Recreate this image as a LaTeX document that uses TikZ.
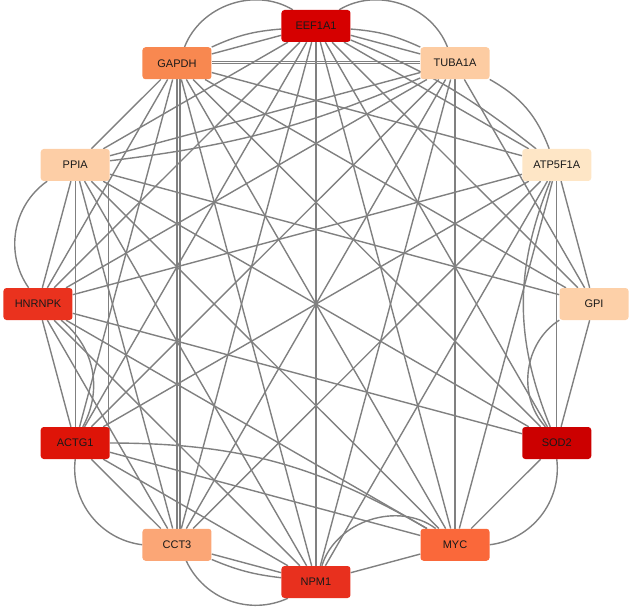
\documentclass[tikz,border=0pt]{standalone}
\usepackage{fontspec}
\setmainfont{Liberation Sans}
\usetikzlibrary{backgrounds}

\def\ringradius{278}
\definecolor{edgecolor}{RGB}{128, 128, 128}
\definecolor{colEEF}{RGB}{214, 0, 0}
\definecolor{colTUB}{RGB}{253, 204, 162}
\definecolor{colATP}{RGB}{254, 230, 198}
\definecolor{colGPI}{RGB}{253, 208, 168}
\definecolor{colSOD}{RGB}{204, 0, 0}
\definecolor{colMYC}{RGB}{250, 104, 58}
\definecolor{colNPM}{RGB}{232, 48, 30}
\definecolor{colCCT}{RGB}{251, 166, 118}
\definecolor{colACT}{RGB}{222, 20, 8}
\definecolor{colHNR}{RGB}{234, 50, 30}
\definecolor{colPPI}{RGB}{253, 206, 166}
\definecolor{colGAP}{RGB}{248, 136, 80}

\begin{document}
\begin{tikzpicture}[x=1pt, y=1pt,
    gene/.style={rectangle, rounded corners=3pt, minimum width=69pt, minimum height=32pt,
        inner sep=0pt, text=black!90, font=\fontsize{11}{13}\selectfont},
    link/.style={draw, line width=1.4pt, edgecolor}
    ]
    \useasboundingbox (-316,-304) rectangle (316,304);

    \newcommand{\genes}{%
        EEF1A1/colEEF, TUBA1A/colTUB, ATP5F1A/colATP, GPI/colGPI,
        SOD2/colSOD, MYC/colMYC, NPM1/colNPM, CCT3/colCCT,
        ACTG1/colACT, HNRNPK/colHNR, PPIA/colPPI, GAPDH/colGAP%
    }
    % source/target/bend
    \newcommand{\links}{%
        EEF1A1/TUBA1A/0, EEF1A1/GAPDH/0, EEF1A1/ATP5F1A/0, EEF1A1/GPI/0,
        EEF1A1/SOD2/0, EEF1A1/MYC/0, EEF1A1/NPM1/0, EEF1A1/CCT3/0,
        EEF1A1/ACTG1/0, EEF1A1/HNRNPK/0, EEF1A1/PPIA/0,
        TUBA1A/GAPDH/0, TUBA1A/MYC/0, TUBA1A/NPM1/0, TUBA1A/CCT3/0,
        TUBA1A/ACTG1/0, TUBA1A/HNRNPK/0, TUBA1A/PPIA/0, TUBA1A/GPI/0,
        ATP5F1A/GAPDH/0, ATP5F1A/HNRNPK/0, ATP5F1A/ACTG1/0,
        ATP5F1A/CCT3/0, ATP5F1A/NPM1/0, ATP5F1A/MYC/0, ATP5F1A/SOD2/0,
        ATP5F1A/GPI/0,
        GPI/GAPDH/0, GPI/PPIA/0, GPI/SOD2/0,
        SOD2/GAPDH/0, SOD2/HNRNPK/0, SOD2/PPIA/0, SOD2/MYC/0,
        MYC/GAPDH/0, MYC/PPIA/0, MYC/HNRNPK/0, MYC/ACTG1/0, MYC/NPM1/0,
        NPM1/GAPDH/0, NPM1/PPIA/0, NPM1/HNRNPK/0, NPM1/ACTG1/0, NPM1/CCT3/0,
        CCT3/GAPDH/0, CCT3/HNRNPK/0, CCT3/PPIA/0, CCT3/ACTG1/0,
        ACTG1/HNRNPK/0, ACTG1/PPIA/0, ACTG1/GAPDH/0,
        HNRNPK/PPIA/0, HNRNPK/GAPDH/0, PPIA/GAPDH/0,
        GAPDH/EEF1A1/50, EEF1A1/TUBA1A/50, TUBA1A/ATP5F1A/20,
        ATP5F1A/SOD2/-22, GPI/SOD2/-50, SOD2/MYC/45, MYC/NPM1/-55,
        NPM1/CCT3/45, CCT3/ACTG1/45, ACTG1/HNRNPK/-40, HNRNPK/PPIA/45,
        GAPDH/EEF1A1/10, EEF1A1/TUBA1A/10, EEF1A1/ATP5F1A/8, NPM1/CCT3/8,
        ACTG1/MYC/15, PPIA/TUBA1A/-8%
    }

    % Define vertices
    \foreach [count = \i] \name/\col in \genes {
        \pgfmathsetmacro{\nodeangle}{90-30*(\i-1)}
        \node[gene, fill=\col, name=\name] at (\nodeangle:\ringradius) {\name};
    }

    % Define edges
    \begin{pgfonlayer}{background}
    \foreach \a/\b/\bnd in \links {
        \draw[link] (\a) to[bend left=\bnd] (\b);
    }
    % parallel edges drawn side by side
    \draw[link] ([xshift=33pt]PPIA.south) -- ([xshift=33pt]ACTG1.north);
    \draw[link] ([xshift=3pt]GAPDH.south) -- ([xshift=3pt]CCT3.north);
    \draw[link] ([yshift=2pt]GAPDH.east) -- ([yshift=2pt]TUBA1A.west);
    \end{pgfonlayer}
\end{tikzpicture}
\end{document}
